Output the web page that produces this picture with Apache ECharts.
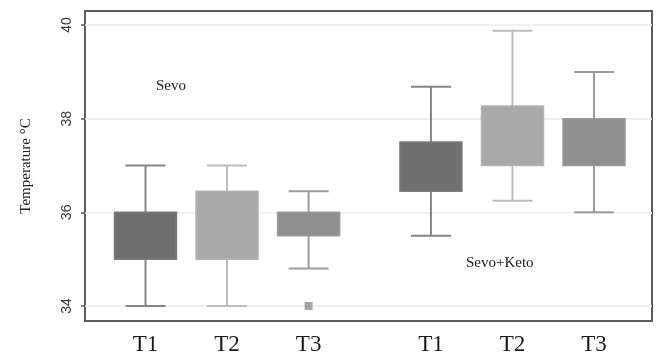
<!DOCTYPE html>
<html>
<head>
<meta charset="utf-8">
<script src="https://cdn.jsdelivr.net/npm/echarts@6/dist/echarts.min.js"></script>
<style>html,body{margin:0;padding:0;background:#fff}#c{width:656px;height:358px}</style>
</head>
<body>
<div id="c"></div>
<script>
// ---- data ----
const groups = ['Sevo', 'Sevo+Keto'];
const times = ['T1', 'T2', 'T3'];
const whiskerLow  = [34.0, 34.0, 34.8, 35.5, 36.25, 36.0];
const q1          = [35.0, 35.0, 35.5, 36.45, 37.0, 37.0];
const q3          = [36.0, 36.45, 36.0, 37.5, 38.27, 38.0];
const whiskerHigh = [37.0, 37.0, 36.45, 38.68, 39.88, 39.0];
const outlierBox = [2];
const outlierValue = [34.0];
const yTicks = [34, 36, 38, 40];

// ---- styles ----
const fillColors = ['#6f6f6f', '#a9a9a9', '#8f8f8f'];
const edgeColors = ['#7c7c7c', '#b3b3b3', '#9a9a9a'];
const whiskerColors = ['#858585', '#bcbcbc', '#9c9c9c'];

// position of each box on the x scale: groups separated by an extra half slot
const positions = [];
for (let g = 0; g < groups.length; g++) {
  for (let t = 0; t < times.length; t++) positions.push(1 + g * 3.5 + t);
}
const boxData = positions.map((p, i) => [p, whiskerLow[i], q1[i], q3[i], whiskerHigh[i], i % 3]);
const outData = outlierBox.map((b, i) => [positions[b], outlierValue[i]]);

const chart = echarts.init(document.getElementById('c'));
chart.setOption({
  animation: false,
  grid: { left: 85, right: 4, top: 11, bottom: 37, show: true, borderColor: '#5c5c5c', borderWidth: 2, backgroundColor: 'transparent' },
  xAxis: {
    type: 'value', min: 0.258, max: 7.211,
    axisLine: { show: false }, axisTick: { show: false }, splitLine: { show: false },
    axisLabel: {
      customValues: positions,
      formatter: v => { const i = positions.findIndex(p => Math.abs(p - v) < 1e-6); return i >= 0 ? times[i % 3] : ''; },
      fontFamily: 'Liberation Serif', fontSize: 23, color: '#1a1a1a', margin: 12
    }
  },
  yAxis: {
    type: 'value', min: 33.68, max: 40.3,
    name: 'Temperature °C', nameLocation: 'middle', nameGap: 51,
    nameTextStyle: { fontFamily: 'Liberation Serif', fontSize: 15, color: '#222' },
    axisLine: { show: false },
    axisTick: { show: true, customValues: yTicks, length: 4, lineStyle: { color: '#555', width: 1.5 } },
    axisLabel: { customValues: yTicks, rotate: 90, fontFamily: 'Liberation Sans', fontSize: 14, color: '#3a3a3a', margin: 11 },
    splitLine: { show: true, lineStyle: { color: '#ebebeb', width: 1.5 } }
  },
  graphic: [
    { type: 'text', left: 156, top: 79, style: { text: groups[0], font: '15px "Liberation Serif"', fill: '#222' } },
    { type: 'text', left: 466, top: 256, style: { text: groups[1], font: '15px "Liberation Serif"', fill: '#222' } }
  ],
  series: [
    {
      type: 'custom',
      data: boxData,
      encode: { x: 0, y: [1, 2, 3, 4] },
      renderItem: (params, api) => {
        const x = api.value(0);
        const c = api.value(5);
        const lo = api.coord([x, api.value(1)]);
        const a = api.coord([x, api.value(2)]);
        const b = api.coord([x, api.value(3)]);
        const hi = api.coord([x, api.value(4)]);
        const bw = 62, cw = 40;
        const ws = { stroke: whiskerColors[c], lineWidth: 2 };
        return {
          type: 'group',
          children: [
            { type: 'line', shape: { x1: lo[0], y1: lo[1], x2: a[0], y2: a[1] }, style: ws },
            { type: 'line', shape: { x1: b[0], y1: b[1], x2: hi[0], y2: hi[1] }, style: ws },
            { type: 'line', shape: { x1: lo[0] - cw / 2, y1: lo[1], x2: lo[0] + cw / 2, y2: lo[1] }, style: ws },
            { type: 'line', shape: { x1: hi[0] - cw / 2, y1: hi[1], x2: hi[0] + cw / 2, y2: hi[1] }, style: ws },
            { type: 'rect', shape: { x: a[0] - bw / 2, y: b[1], width: bw, height: a[1] - b[1] },
              style: { fill: fillColors[c], stroke: edgeColors[c], lineWidth: 1.5 } }
          ]
        };
      }
    },
    {
      type: 'scatter', data: outData, symbol: 'rect', symbolSize: 8,
      itemStyle: { color: '#8f8f8f' }
    }
  ]
});
</script>
</body>
</html>
